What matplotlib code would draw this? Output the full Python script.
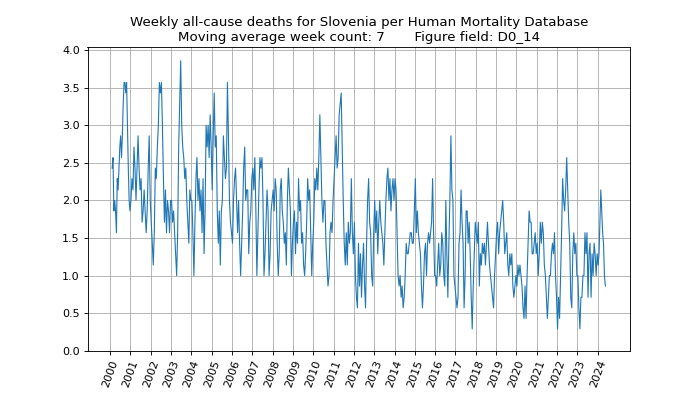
import numpy as np
import matplotlib
matplotlib.use("Agg")
import matplotlib.pyplot as plt

# ------------------------------------------------------------------ #
#  Data (7-week moving average of weekly D0_14 deaths)
# ------------------------------------------------------------------ #
FIRST_WEEK = 2000.08     # first averaged week (decimal year)
LAST_WEEK  = 2024.40     # last averaged week

y2000 = [2.43, 2.57, 1.86, 2.0, 1.86, 1.57, 2.29, 2.14, 2.43, 2.71, 2.86,
         2.57, 2.86, 3.29, 3.57, 3.57, 3.43, 3.57, 3.0, 2.43, 2.0, 1.86]
y2001 = [2.0, 2.29, 2.14, 2.71, 2.43, 2.0, 2.43, 2.86, 2.43, 2.14, 2.29,
         1.71, 1.86, 2.14, 1.86, 1.57, 1.86, 2.43, 2.86, 2.0]
y2002 = [1.71, 1.43, 1.14, 1.57, 2.43, 2.29, 2.71, 3.0, 3.57, 3.43, 3.57,
         3.0, 2.29, 1.71, 2.14, 1.57, 2.0, 1.86, 1.57, 2.0]
y2003 = [2.0, 1.71, 1.86, 1.57, 1.29, 1.0, 1.57, 2.71, 3.29, 3.86, 3.0,
         2.71, 2.57, 2.29, 2.43, 2.0, 1.71, 1.43, 2.14, 2.0]
y2004 = [2.0, 1.57, 1.0, 1.71, 2.29, 2.57, 2.0, 2.29, 1.86, 2.14, 1.57,
         2.29, 1.29, 1.86, 3.0, 2.71, 3.0, 2.57, 3.14, 2.71]
y2005 = [2.14, 2.86, 3.43, 2.71, 2.86, 1.86, 1.43, 1.86, 1.14, 1.86, 2.0,
         2.86, 2.57, 2.29, 2.43, 3.57, 2.86, 2.0, 1.71, 1.57]
y2006 = [1.43, 2.0, 2.29, 2.43, 2.0, 1.57, 2.0, 1.43, 1.0, 1.43, 1.86,
         2.43, 2.71, 2.0, 2.14, 2.14, 1.29, 1.71, 1.86, 2.29]
y2007 = [2.43, 2.14, 2.57, 1.86, 1.0, 1.57, 2.14, 2.57, 2.43, 2.57, 2.0,
         1.0, 1.29, 1.71, 2.14, 1.86, 1.0, 1.29, 1.86, 2.0]
y2008 = [2.14, 1.86, 2.29, 2.14, 1.43, 1.0, 1.29, 2.14, 2.29, 1.86, 1.71,
         1.43, 1.57, 1.14, 2.0, 2.43, 2.14, 1.86, 1.0, 1.43]
y2009 = [1.71, 1.86, 1.29, 1.71, 1.43, 2.29, 1.86, 2.0, 1.43, 1.57, 1.14,
         1.0, 1.29, 1.71, 2.29, 2.0, 2.14, 1.57, 1.0, 1.43]
y2010 = [1.71, 2.29, 2.14, 2.43, 2.14, 2.57, 3.14, 2.57, 2.0, 1.71, 2.0,
         2.0, 1.43, 1.14, 0.86, 1.0, 1.57, 1.71, 1.57, 2.0]
y2011 = [2.29, 2.57, 2.86, 2.43, 2.57, 3.14, 3.29, 3.43, 2.71, 2.0, 1.43,
         1.14, 1.57, 1.14, 1.71, 1.43, 1.57, 2.29, 1.57, 1.29]
y2012 = [1.71, 1.0, 0.71, 0.57, 1.43, 0.86, 1.29, 0.71, 1.14, 1.43, 0.86,
         0.57, 1.43, 2.0, 2.29, 1.71, 1.57, 1.0, 0.86, 1.57]
y2013 = [2.0, 1.57, 1.86, 1.29, 1.71, 2.0, 1.71, 1.57, 1.43, 1.14, 1.57,
         2.0, 2.29, 2.43, 2.0, 2.29, 1.86, 2.14, 2.29, 2.0]
y2014 = [2.29, 2.14, 1.57, 1.0, 0.86, 1.0, 0.71, 0.86, 0.57, 0.71, 1.0,
         1.43, 1.29, 1.29, 1.43, 1.57, 1.57, 1.43, 1.43, 1.86]
y2015 = [2.29, 1.57, 1.86, 1.57, 1.43, 1.29, 0.86, 0.57, 0.86, 1.29, 1.43,
         1.0, 1.43, 1.57, 1.43, 1.57, 1.71, 2.29, 1.57, 1.0]
y2016 = [1.0, 0.86, 1.14, 1.43, 1.0, 1.14, 1.57, 1.43, 1.0, 0.86, 2.0,
         1.29, 0.71, 1.43, 2.0, 2.86, 2.14, 2.0, 1.0, 0.86]
y2017 = [0.71, 0.57, 0.71, 1.43, 1.57, 2.14, 1.71, 1.43, 0.57, 1.0, 1.86,
         1.86, 1.43, 1.71, 1.29, 0.71, 0.29, 0.86, 1.29, 1.71]
y2018 = [1.57, 1.43, 1.71, 0.86, 1.29, 1.14, 1.43, 1.29, 1.43, 1.14, 1.43,
         1.71, 1.43, 1.14, 1.0, 0.86, 0.71, 0.57, 1.0, 1.29]
y2019 = [1.57, 1.71, 1.29, 1.57, 1.71, 1.86, 2.0, 1.71, 1.29, 1.43, 1.57,
         1.14, 1.0, 1.29, 1.14, 1.29, 0.86, 0.71, 0.86, 1.0]
y2020 = [0.86, 1.14, 1.0, 1.14, 1.0, 0.86, 0.57, 0.43, 0.86, 0.43, 1.0,
         1.43, 1.86, 1.71, 1.71, 1.29, 1.29, 1.43, 1.57, 1.29]
y2021 = [1.43, 1.0, 1.29, 1.71, 1.43, 1.71, 1.57, 1.14, 1.0, 0.71, 0.43,
         0.71, 1.0, 1.0, 1.29, 1.43, 1.29, 1.57, 1.0, 0.71]
y2022 = [0.29, 0.71, 0.43, 1.0, 1.57, 2.29, 2.0, 1.86, 2.14, 2.57, 2.14,
         1.71, 1.43, 0.71, 0.57, 1.29, 1.57, 1.29, 1.43, 1.0]
y2023 = [1.0, 0.57, 0.29, 0.71, 0.71, 1.0, 1.0, 1.57, 1.29, 1.57, 0.71,
         1.29, 1.43, 0.71, 1.29, 1.0, 1.43, 1.29, 1.0, 1.29]
y2024 = [1.14, 1.29, 1.71, 2.14, 1.86, 1.57, 1.43, 1.0, 0.86]

YEARS  = list(range(2000, 2025))
VALUES = [y2000, y2001, y2002, y2003, y2004, y2005, y2006, y2007, y2008,
          y2009, y2010, y2011, y2012, y2013, y2014, y2015, y2016, y2017,
          y2018, y2019, y2020, y2021, y2022, y2023, y2024]

# ------------------------------------------------------------------ #
#  Spread each year's readings evenly over the part of the year covered
# ------------------------------------------------------------------ #
t, v = [], []
for yr, vals in zip(YEARS, VALUES):
    t0 = max(yr, FIRST_WEEK)
    t1 = min(yr + 1, LAST_WEEK)
    n = len(vals)
    t += [t0 + (i + 0.5) * (t1 - t0) / n for i in range(n)]
    v += vals

fig = plt.figure(figsize=(8.75, 4.925), dpi=80)
ax = fig.add_subplot(111)
ax.plot(t, v, lw=1)
ax.set_ylim(bottom=0)
ax.set_xticks(YEARS)
ax.set_xticklabels([str(y) for y in YEARS])
plt.xticks(rotation=70)
ax.grid(True)
ax.set_title("Weekly all-cause deaths for Slovenia per Human Mortality Database\n"
             "Moving average week count: 7       Figure field: D0_14")

plt.savefig("out.png", dpi=80)
